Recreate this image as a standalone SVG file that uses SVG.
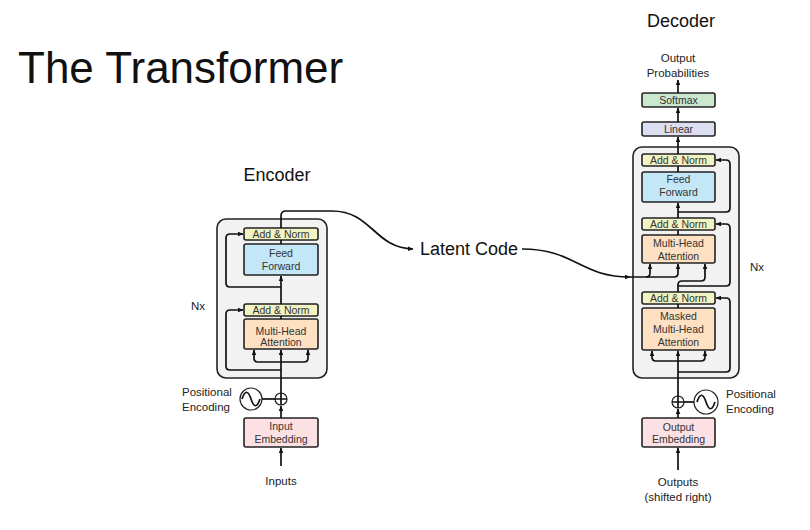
<svg xmlns="http://www.w3.org/2000/svg" width="810" height="530" viewBox="0 0 810 530">
<defs>
<marker id="ah" viewBox="0 0 10 10" refX="9" refY="5" markerWidth="6" markerHeight="6" markerUnits="userSpaceOnUse" orient="auto"><path d="M0,1 L10,5 L0,9 z" fill="#111"/></marker>
<style>
.stack{fill:#f2f2f2;stroke:#222;stroke-width:1.6}
.blk{stroke:#222;stroke-width:1.6}
.an{fill:#f1f3c3}
.ff{fill:#c3e7f6}
.mha{fill:#fde1c2}
.emb{fill:#fce1e4}
.lin{fill:#dcdff2}
.sm{fill:#cbe8cf}
.lbl{font-family:"Liberation Sans",Arial,sans-serif;font-size:10.5px;fill:#333;text-anchor:middle}
.ext{font-family:"Liberation Sans",Arial,sans-serif;font-size:11.5px;fill:#222}
.mid{text-anchor:middle}
.big{font-family:"Liberation Sans",Arial,sans-serif;fill:#111}
.c{fill:none;stroke:#111;stroke-width:1.7}
.ca{fill:none;stroke:#111;stroke-width:1.7;marker-end:url(#ah)}
.pe{fill:#fff;stroke:#222;stroke-width:1.2}
</style>
</defs>
<rect width="810" height="530" fill="#fff"/>
<text class="big" x="18" y="83" font-size="44">The Transformer</text>
<text class="big" x="277" y="181" font-size="18" text-anchor="middle">Encoder</text>
<text class="big" x="681" y="27" font-size="18" text-anchor="middle">Decoder</text>
<text class="big" x="420" y="255" font-size="18">Latent Code</text>

<g id="encoder">
<rect class="stack" x="217" y="219" width="110" height="159" rx="9"/>
<text class="ext" x="191" y="310">Nx</text>
</g>
<g id="enc-addnorm2"><rect class="blk an" x="244" y="228" width="74" height="12" rx="2"/><text class="lbl" x="281" y="237.5">Add &amp; Norm</text></g>
<g id="enc-ff"><rect class="blk ff" x="244" y="244" width="74" height="31" rx="2"/><text class="lbl" x="281" y="257">Feed</text><text class="lbl" x="281" y="270">Forward</text></g>
<g id="enc-addnorm1"><rect class="blk an" x="244" y="304" width="74" height="12" rx="2"/><text class="lbl" x="281" y="313.5">Add &amp; Norm</text></g>
<g id="enc-mha"><rect class="blk mha" x="244" y="319" width="74" height="30" rx="2"/><text class="lbl" x="281" y="335">Multi-Head</text><text class="lbl" x="281" y="346">Attention</text></g>
<g id="enc-emb"><rect class="blk emb" x="244" y="418" width="74" height="29" rx="2"/><text class="lbl" x="281" y="430">Input</text><text class="lbl" x="281" y="443">Embedding</text></g>
<g id="enc-pos">
<circle class="pe" cx="251" cy="399" r="11"/>
<path class="c" d="M242,399 C245,390 248,390 251,399 S257,408 260,399" stroke-width="1.1"/>
<circle class="pe" cx="281" cy="399" r="6"/>
<path class="c" d="M275,399 H287 M281,393 V405" stroke-width="1.1"/>
<text class="ext" x="182" y="396">Positional</text>
<text class="ext" x="182" y="411">Encoding</text>
</g>
<g id="enc-inputs"><text class="ext mid" x="281" y="485">Inputs</text></g>

<g id="decoder">
<rect class="stack" x="633" y="147" width="106" height="231" rx="9"/>
<text class="ext" x="750" y="271">Nx</text>
</g>
<g id="dec-softmax"><rect class="blk sm" x="642" y="93" width="73" height="14" rx="2"/><text class="lbl" x="678.5" y="103.5">Softmax</text></g>
<g id="dec-linear"><rect class="blk lin" x="642" y="122" width="73" height="14" rx="2"/><text class="lbl" x="678.5" y="132.5">Linear</text></g>
<g id="dec-addnorm3"><rect class="blk an" x="642" y="154" width="73" height="12" rx="2"/><text class="lbl" x="678.5" y="163.5">Add &amp; Norm</text></g>
<g id="dec-ff"><rect class="blk ff" x="642" y="172" width="73" height="30" rx="2"/><text class="lbl" x="678.5" y="183">Feed</text><text class="lbl" x="678.5" y="196">Forward</text></g>
<g id="dec-addnorm2"><rect class="blk an" x="642" y="218" width="73" height="12" rx="2"/><text class="lbl" x="678.5" y="227.5">Add &amp; Norm</text></g>
<g id="dec-mha"><rect class="blk mha" x="642" y="235" width="73" height="28" rx="2"/><text class="lbl" x="678.5" y="247">Multi-Head</text><text class="lbl" x="678.5" y="260">Attention</text></g>
<g id="dec-addnorm1"><rect class="blk an" x="642" y="292" width="73" height="12" rx="2"/><text class="lbl" x="678.5" y="301.5">Add &amp; Norm</text></g>
<g id="dec-mmha"><rect class="blk mha" x="642" y="308" width="73" height="42" rx="2"/><text class="lbl" x="678.5" y="320">Masked</text><text class="lbl" x="678.5" y="333">Multi-Head</text><text class="lbl" x="678.5" y="346">Attention</text></g>
<g id="dec-emb"><rect class="blk emb" x="642" y="418" width="73" height="29" rx="2"/><text class="lbl" x="678.5" y="431">Output</text><text class="lbl" x="678.5" y="443">Embedding</text></g>
<g id="dec-pos">
<circle class="pe" cx="706" cy="402" r="12"/>
<path class="c" d="M697,402 C700,393 703,393 706,402 S712,411 715,402" stroke-width="1.1"/>
<circle class="pe" cx="678" cy="402" r="6"/>
<path class="c" d="M672,402 H684 M678,396 V408" stroke-width="1.1"/>
<text class="ext" x="726" y="398">Positional</text>
<text class="ext" x="726" y="413">Encoding</text>
</g>
<g id="dec-outputs"><text class="ext mid" x="678" y="486">Outputs</text><text class="ext mid" x="678" y="501">(shifted right)</text></g>
<g id="dec-probs"><text class="ext mid" x="678" y="62">Output</text><text class="ext mid" x="678" y="77">Probabilities</text></g>

<g id="connectors">
<!-- encoder -->
<path class="ca" d="M281,466 V448"/>
<path class="ca" d="M281,418 V406"/>
<path class="c" d="M262,399 H275"/>
<path class="ca" d="M281,393 V350"/>
<path class="ca" d="M281,362 H258 Q254,362 254,358 V350"/>
<path class="ca" d="M281,362 H304 Q308,362 308,358 V350"/>
<path class="ca" d="M281,370 H230 Q226,370 226,366 V314 Q226,310 230,310 H243"/>
<path class="c" d="M281,319 V316"/>
<path class="ca" d="M281,304 V276"/>
<path class="ca" d="M281,287 H230 Q226,287 226,283 V238 Q226,234 230,234 H243"/>
<path class="c" d="M281,244 V240"/>
<path class="ca" d="M281,228 V216 Q281,211 286,211 H332 C372,211 374,248 413,249"/>
<!-- latent to decoder -->
<path class="ca" d="M522,249 C575,249 580,277 630,277"/>
<path class="ca" d="M630,277 H646 Q650,277 650,273 V264"/>
<path class="ca" d="M646,277 H674 Q678,277 678,273 V264"/>
<!-- decoder -->
<path class="ca" d="M678,470 V448"/>
<path class="ca" d="M678,418 V409"/>
<path class="c" d="M684,402 H694"/>
<path class="ca" d="M678,396 V351"/>
<path class="ca" d="M678,361 H656 Q652,361 652,357 V351"/>
<path class="ca" d="M678,361 H701 Q705,361 705,357 V351"/>
<path class="ca" d="M678,372 H726 Q730,372 730,368 V302 Q730,298 726,298 H716"/>
<path class="c" d="M678,308 V304"/>
<path class="ca" d="M678,292 V285 Q678,281 682,281 H701 Q705,281 705,277 V264"/>
<path class="ca" d="M678,286 H726 Q730,286 730,282 V228 Q730,224 726,224 H716"/>
<path class="c" d="M678,235 V230"/>
<path class="ca" d="M678,218 V203"/>
<path class="ca" d="M678,212 H726 Q730,212 730,208 V164 Q730,160 726,160 H716"/>
<path class="c" d="M678,172 V166"/>
<path class="ca" d="M678,154 V137"/>
<path class="ca" d="M678,122 V108"/>
<path class="ca" d="M678,93 V80"/>
</g>
</svg>
